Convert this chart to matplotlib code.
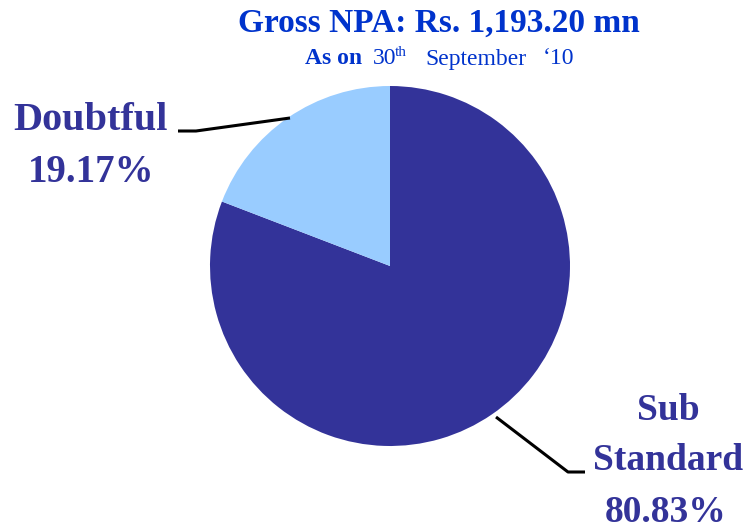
import matplotlib
matplotlib.use("Agg")
import matplotlib.pyplot as plt

labels = ["Sub\nStandard", "Doubtful"]
values = [80.83, 19.17]
colors = ["#333399", "#99CCFF"]
title = "Gross NPA: Rs. 1,193.20 mn"

W, H = 749, 530
fig = plt.figure(figsize=(W / 100, H / 100), dpi=100)
ax = fig.add_axes([0, 0, 1, 1])
cx, cy, r = 390, H - 266, 180
ax.pie(values, colors=colors, startangle=90, counterclock=False,
       center=(cx, cy), radius=r, wedgeprops=dict(linewidth=0))
ax.set_xlim(0, W)
ax.set_ylim(0, H)
ax.set_aspect("equal")
ax.axis("off")

serif = ["Liberation Serif", "DejaVu Serif"]
lab_col = "#333399"
tcol = "#0033CC"

def Y(y):
    return H - y

ax.text(439, Y(23), title, ha="center", va="center", fontsize=24,
        fontweight="bold", color=tcol, family=serif)
ax.text(305, Y(59), "As on", ha="left", va="center", fontsize=17,
        fontweight="bold", color=tcol, family=serif)
ax.text(373, Y(59), "30", ha="left", va="center", fontsize=17,
        color=tcol, family=serif)
ax.text(395, Y(53), "th", ha="left", va="center", fontsize=11,
        color=tcol, family=serif)
ax.text(425, Y(59), "September", ha="left", va="center", fontsize=17,
        color=tcol, family=serif)
ax.text(543, Y(59), "\u201810", ha="left", va="center", fontsize=17,
        color=tcol, family=serif)

ax.text(91, Y(121), "Doubtful", ha="center", va="center", fontsize=29,
        fontweight="bold", color=lab_col, family=serif)
ax.text(91, Y(172), f"{values[1]:.2f}%", ha="center", va="center", fontsize=28,
        fontweight="bold", color=lab_col, family=serif)

ax.text(668, Y(410), "Sub", ha="center", va="center", fontsize=27,
        fontweight="bold", color=lab_col, family=serif)
ax.text(668, Y(461), "Standard", ha="center", va="center", fontsize=27,
        fontweight="bold", color=lab_col, family=serif)
ax.text(666, Y(512), f"{values[0]:.2f}%", ha="center", va="center", fontsize=27,
        fontweight="bold", color=lab_col, family=serif)

ax.plot([178, 196, 290], [Y(131), Y(131), Y(118)], color="black", lw=2.2,
        solid_capstyle="butt")
ax.plot([496, 568, 585], [Y(417), Y(472), Y(472)], color="black", lw=2.2,
        solid_capstyle="butt")

fig.savefig("out.png", dpi=100)
